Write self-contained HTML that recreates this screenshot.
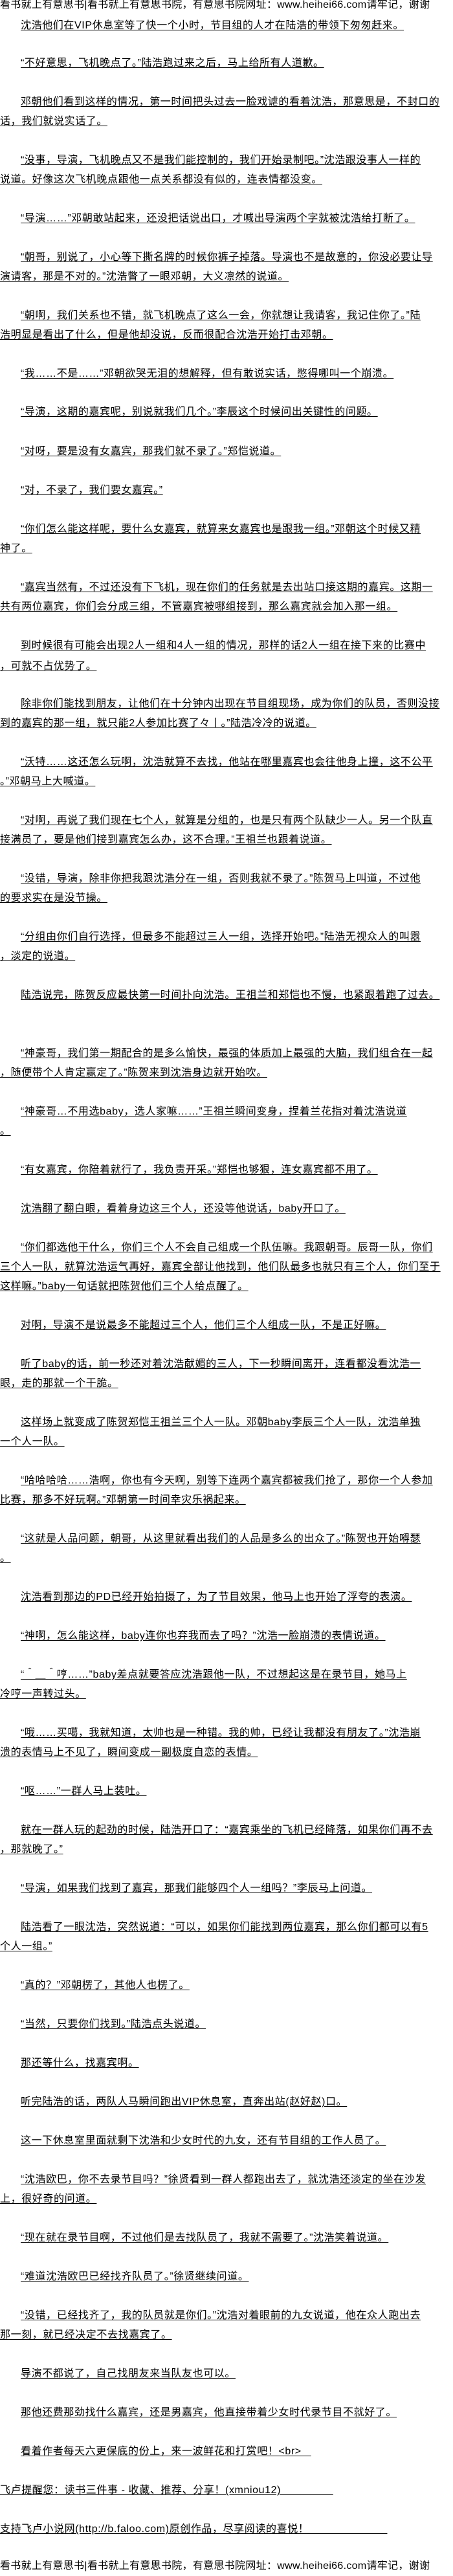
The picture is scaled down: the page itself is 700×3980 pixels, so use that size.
<!DOCTYPE html>
<html><head><meta charset="utf-8">
<style>
html,body{margin:0;padding:0;background:#fff;}
body{width:700px;height:3980px;position:relative;overflow:hidden;
font-family:"Liberation Sans","Noto Sans CJK SC",sans-serif;font-size:16px;color:#000;letter-spacing:0.6px;}
.l{position:absolute;left:0;white-space:nowrap;line-height:30px;height:30px;text-decoration:underline;text-underline-offset:2px;}
.i{left:32px;}
.h{position:absolute;left:0;white-space:nowrap;line-height:20px;font-size:16px;letter-spacing:0.3px;}
</style></head><body>
<div class="h" style="top:-2px">看书就上有意思书|看书就上有意思书院，有意思书院网址：www.heihei66.com请牢记，谢谢</div>
<div class="l i" style="top:25px">沈浩他们在VIP休息室等了快一个小时，节目组的人才在陆浩的带领下匆匆赶来。</div>
<div class="l i" style="top:83px">“不好意思，飞机晚点了。”陆浩跑过来之后，马上给所有人道歉。</div>
<div class="l i" style="top:143px">邓朝他们看到这样的情况，第一时间把头过去一脸戏谑的看着沈浩，那意思是，不封口的</div>
<div class="l" style="top:173px">话，我们就说实话了。</div>
<div class="l i" style="top:233px">“没事，导演，飞机晚点又不是我们能控制的，我们开始录制吧。”沈浩跟没事人一样的</div>
<div class="l" style="top:263px">说道。好像这次飞机晚点跟他一点关系都没有似的，连表情都没变。</div>
<div class="l i" style="top:323px">“导演……”邓朝敢站起来，还没把话说出口，才喊出导演两个字就被沈浩给打断了。</div>
<div class="l i" style="top:383px">“朝哥，别说了，小心等下撕名牌的时候你裤子掉落。导演也不是故意的，你没必要让导</div>
<div class="l" style="top:413px">演请客，那是不对的。”沈浩瞥了一眼邓朝，大义凛然的说道。</div>
<div class="l i" style="top:473px">“朝啊，我们关系也不错，就飞机晚点了这么一会，你就想让我请客，我记住你了。”陆</div>
<div class="l" style="top:503px">浩明显是看出了什么，但是他却没说，反而很配合沈浩开始打击邓朝。</div>
<div class="l i" style="top:563px">“我……不是……”邓朝欲哭无泪的想解释，但有敢说实话，憋得哪叫一个崩溃。</div>
<div class="l i" style="top:622px">“导演，这期的嘉宾呢，别说就我们几个。”李辰这个时候问出关键性的问题。</div>
<div class="l i" style="top:683px">“对呀，要是没有女嘉宾，那我们就不录了。”郑恺说道。</div>
<div class="l i" style="top:743px">“对，不录了，我们要女嘉宾。”</div>
<div class="l i" style="top:803px">“你们怎么能这样呢，要什么女嘉宾，就算来女嘉宾也是跟我一组。”邓朝这个时候又精</div>
<div class="l" style="top:833px">神了。</div>
<div class="l i" style="top:893px">“嘉宾当然有，不过还没有下飞机，现在你们的任务就是去出站口接这期的嘉宾。这期一</div>
<div class="l" style="top:923px">共有两位嘉宾，你们会分成三组，不管嘉宾被哪组接到，那么嘉宾就会加入那一组。</div>
<div class="l i" style="top:983px">到时候很有可能会出现2人一组和4人一组的情况，那样的话2人一组在接下来的比赛中</div>
<div class="l" style="top:1015px">，可就不占优势了。</div>
<div class="l i" style="top:1073px">除非你们能找到朋友，让他们在十分钟内出现在节目组现场，成为你们的队员，否则没接</div>
<div class="l" style="top:1103px">到的嘉宾的那一组，就只能2人参加比赛了々丨。”陆浩冷冷的说道。</div>
<div class="l i" style="top:1163px">“沃特……这还怎么玩啊，沈浩就算不去找，他站在哪里嘉宾也会往他身上撞，这不公平</div>
<div class="l" style="top:1193px">。”邓朝马上大喊道。</div>
<div class="l i" style="top:1253px">“对啊，再说了我们现在七个人，就算是分组的，也是只有两个队缺少一人。另一个队直</div>
<div class="l" style="top:1283px">接满员了，要是他们接到嘉宾怎么办，这不合理。”王祖兰也跟着说道。</div>
<div class="l i" style="top:1343px">“没错，导演，除非你把我跟沈浩分在一组，否则我就不录了。”陈贺马上叫道，不过他</div>
<div class="l" style="top:1373px">的要求实在是没节操。</div>
<div class="l i" style="top:1433px">“分组由你们自行选择，但最多不能超过三人一组，选择开始吧。”陆浩无视众人的叫嚣</div>
<div class="l" style="top:1463px">，淡定的说道。</div>
<div class="l i" style="top:1523px">陆浩说完，陈贺反应最快第一时间扑向沈浩。王祖兰和郑恺也不慢，也紧跟着跑了过去。</div>
<div class="l i" style="top:1613px">“神豪哥，我们第一期配合的是多么愉快，最强的体质加上最强的大脑，我们组合在一起</div>
<div class="l" style="top:1643px">，随便带个人肯定赢定了。”陈贺来到沈浩身边就开始吹。</div>
<div class="l i" style="top:1703px">“神豪哥…不用选baby，选人家嘛……”王祖兰瞬间变身，捏着兰花指对着沈浩说道</div>
<div class="l" style="top:1733px">。</div>
<div class="l i" style="top:1793px">“有女嘉宾，你陪着就行了，我负责开采。”郑恺也够狠，连女嘉宾都不用了。</div>
<div class="l i" style="top:1853px">沈浩翻了翻白眼，看着身边这三个人，还没等他说话，baby开口了。</div>
<div class="l i" style="top:1913px">“你们都选他干什么，你们三个人不会自己组成一个队伍嘛。我跟朝哥。辰哥一队，你们</div>
<div class="l" style="top:1943px">三个人一队，就算沈浩运气再好，嘉宾全部让他找到，他们队最多也就只有三个人，你们至于</div>
<div class="l" style="top:1973px">这样嘛。”baby一句话就把陈贺他们三个人给点醒了。</div>
<div class="l i" style="top:2033px">对啊，导演不是说最多不能超过三个人，他们三个人组成一队，不是正好嘛。</div>
<div class="l i" style="top:2093px">听了baby的话，前一秒还对着沈浩献媚的三人，下一秒瞬间离开，连看都没看沈浩一</div>
<div class="l" style="top:2123px">眼，走的那就一个干脆。</div>
<div class="l i" style="top:2183px">这样场上就变成了陈贺郑恺王祖兰三个人一队。邓朝baby李辰三个人一队，沈浩单独</div>
<div class="l" style="top:2213px">一个人一队。</div>
<div class="l i" style="top:2273px">“哈哈哈哈……浩啊，你也有今天啊，别等下连两个嘉宾都被我们抢了，那你一个人参加</div>
<div class="l" style="top:2303px">比赛，那多不好玩啊。”邓朝第一时间幸灾乐祸起来。</div>
<div class="l i" style="top:2363px">“这就是人品问题，朝哥，从这里就看出我们的人品是多么的出众了。”陈贺也开始嘚瑟</div>
<div class="l" style="top:2393px">。</div>
<div class="l i" style="top:2453px">沈浩看到那边的PD已经开始拍摄了，为了节目效果，他马上也开始了浮夸的表演。</div>
<div class="l i" style="top:2513px">“神啊，怎么能这样，baby连你也弃我而去了吗？”沈浩一脸崩溃的表情说道。</div>
<div class="l i" style="top:2573px">“＾＿＾哼……”baby差点就要答应沈浩跟他一队，不过想起这是在录节目，她马上</div>
<div class="l" style="top:2603px">冷哼一声转过头。</div>
<div class="l i" style="top:2663px">“哦……买噶，我就知道，太帅也是一种错。我的帅，已经让我都没有朋友了。”沈浩崩</div>
<div class="l" style="top:2693px">溃的表情马上不见了，瞬间变成一副极度自恋的表情。</div>
<div class="l i" style="top:2753px">“呕……”一群人马上装吐。</div>
<div class="l i" style="top:2813px">就在一群人玩的起劲的时候，陆浩开口了：“嘉宾乘坐的飞机已经降落，如果你们再不去</div>
<div class="l" style="top:2843px">，那就晚了。”</div>
<div class="l i" style="top:2903px">“导演，如果我们找到了嘉宾，那我们能够四个人一组吗？”李辰马上问道。</div>
<div class="l i" style="top:2963px">陆浩看了一眼沈浩，突然说道：“可以，如果你们能找到两位嘉宾，那么你们都可以有5</div>
<div class="l" style="top:2993px">个人一组。”</div>
<div class="l i" style="top:3053px">“真的？”邓朝楞了，其他人也楞了。</div>
<div class="l i" style="top:3113px">“当然，只要你们找到。”陆浩点头说道。</div>
<div class="l i" style="top:3173px">那还等什么，找嘉宾啊。</div>
<div class="l i" style="top:3233px">听完陆浩的话，两队人马瞬间跑出VIP休息室，直奔出站(赵好赵)口。</div>
<div class="l i" style="top:3293px">这一下休息室里面就剩下沈浩和少女时代的九女，还有节目组的工作人员了。</div>
<div class="l i" style="top:3353px">“沈浩欧巴，你不去录节目吗？”徐贤看到一群人都跑出去了，就沈浩还淡定的坐在沙发</div>
<div class="l" style="top:3383px">上，很好奇的问道。</div>
<div class="l i" style="top:3443px">“现在就在录节目啊，不过他们是去找队员了，我就不需要了。”沈浩笑着说道。</div>
<div class="l i" style="top:3503px">“难道沈浩欧巴已经找齐队员了。”徐贤继续问道。</div>
<div class="l i" style="top:3563px">“没错，已经找齐了，我的队员就是你们。”沈浩对着眼前的九女说道，他在众人跑出去</div>
<div class="l" style="top:3593px">那一刻，就已经决定不去找嘉宾了。</div>
<div class="l i" style="top:3653px">导演不都说了，自己找朋友来当队友也可以。</div>
<div class="l i" style="top:3713px">那他还费那劲找什么嘉宾，还是男嘉宾，他直接带着少女时代录节目不就好了。</div>
<div class="l i" style="top:3773px">看着作者每天六更保底的份上，来一波鲜花和打赏吧！&lt;br&gt;&nbsp;&nbsp;&nbsp;</div>
<div class="l" style="top:3833px">飞卢提醒您：读书三件事 - 收藏、推荐、分享！(xmniou12)&nbsp;&nbsp;&nbsp;&nbsp;&nbsp;&nbsp;&nbsp;&nbsp;&nbsp;&nbsp;&nbsp;&nbsp;&nbsp;&nbsp;&nbsp;&nbsp;</div>
<div class="l" style="top:3893px">支持飞卢小说网(http://b.faloo.com)原创作品，尽享阅读的喜悦！&nbsp;&nbsp;&nbsp;&nbsp;&nbsp;&nbsp;&nbsp;&nbsp;&nbsp;&nbsp;&nbsp;&nbsp;&nbsp;&nbsp;&nbsp;&nbsp;&nbsp;&nbsp;&nbsp;&nbsp;&nbsp;&nbsp;&nbsp;&nbsp;</div>
<div class="h" style="top:3955px">看书就上有意思书|看书就上有意思书院，有意思书院网址：www.heihei66.com请牢记，谢谢</div>
</body></html>
